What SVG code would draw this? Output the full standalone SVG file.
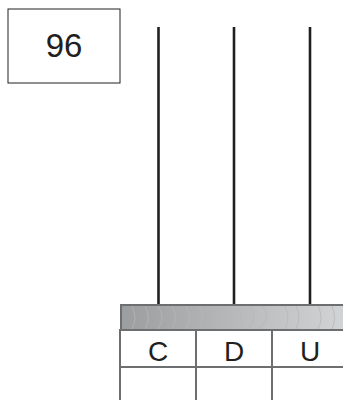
<svg xmlns="http://www.w3.org/2000/svg" width="343" height="400" viewBox="0 0 343 400">
<style>
.rod{stroke:#231f20;stroke-width:2.6;fill:none}
.grid{stroke:#6d6e70;stroke-width:2;fill:none}
.lbl{font-family:"Liberation Sans",Arial,sans-serif;font-size:28px;fill:#231f20;text-anchor:middle}
.arc{stroke:#b5b6b8;stroke-width:0.8;fill:none}
</style>
<defs>
<linearGradient id="bar" x1="0" y1="0" x2="1" y2="0">
<stop offset="0" stop-color="#9c9d9f"/>
<stop offset="1" stop-color="#d4d5d6"/>
</linearGradient>
</defs>
<g id="number">
<rect x="8" y="9" width="112" height="74" fill="#fff" stroke="#231f20" stroke-width="1"/>
<text x="64" y="57" font-family="'Liberation Sans',Arial,sans-serif" font-size="33" fill="#231f20" text-anchor="middle">96</text>
</g>
<g id="connectors">
<line class="rod" x1="158.5" y1="27" x2="158.5" y2="304"/>
<line class="rod" x1="234" y1="27" x2="234" y2="304"/>
<line class="rod" x1="310" y1="27" x2="310" y2="304"/>
</g>
<g id="abacus-bar">
<rect x="121" y="305" width="230" height="25" fill="url(#bar)" stroke="#6d6e70" stroke-width="2"/>
<path class="arc" d="M132 306q6 12 0 23M145 306q7 12 0 23M158 306q8 12 0 23M172 306q7 12 0 23M186 306q7 12 0 23M199 306q7 12 0 23M212 306q7 12 0 23M224 306q6 12 0 23M237 306q8 12 0 23M250 306q9 12 -2 23M262 306q12 12 -4 23M285 306q6 12 0 23M296 306q6 12 0 23M318 306q6 12 0 23M332 306q5 12 0 23"/>
</g>
<g id="table">
<rect x="120" y="330" width="230" height="80" fill="#fff" class="grid"/>
<line class="grid" x1="120" y1="367" x2="350" y2="367"/>
<line class="grid" x1="196" y1="330" x2="196" y2="400"/>
<line class="grid" x1="272" y1="330" x2="272" y2="400"/>
</g>
<g id="col-C"><text class="lbl" x="158" y="361">C</text></g>
<g id="col-D"><text class="lbl" x="234" y="361">D</text></g>
<g id="col-U"><text class="lbl" x="310" y="361">U</text></g>
</svg>
